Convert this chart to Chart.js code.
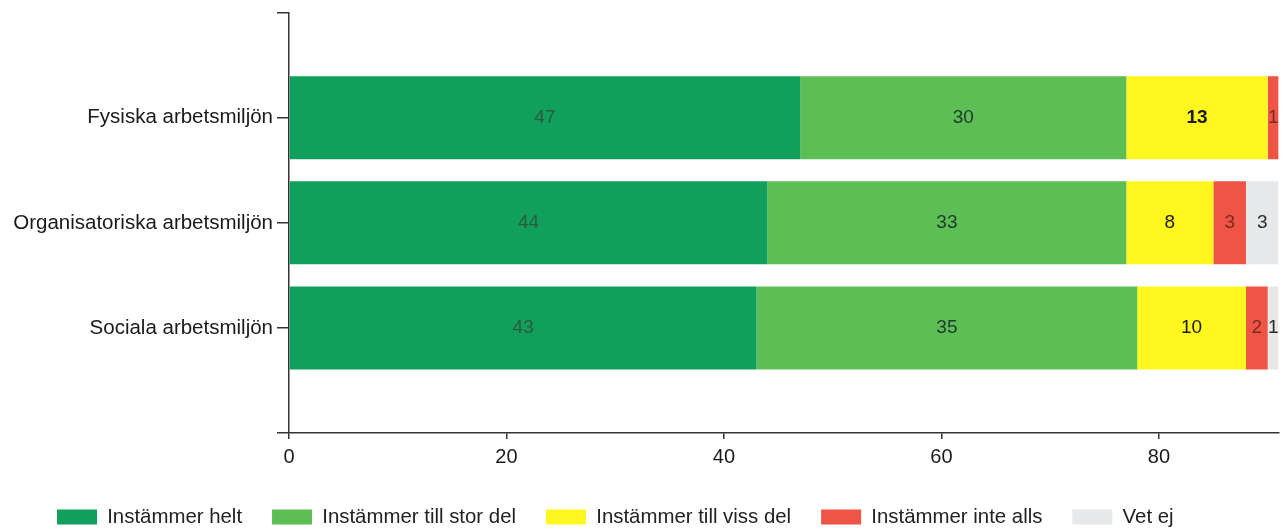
<!DOCTYPE html>
<html>
<head>
<meta charset="utf-8">
<script src="https://cdn.jsdelivr.net/npm/chart.js@4.4.1/dist/chart.umd.min.js"></script>
<style>
  html, body { margin: 0; padding: 0; background: #ffffff; }
  #wrap { width: 1285px; height: 531px; }
</style>
</head>
<body>
<div id="wrap"><canvas id="c" width="1285" height="531"></canvas></div>
<script>
// ---- data ----
const categories = ['Fysiska arbetsmiljön', 'Organisatoriska arbetsmiljön', 'Sociala arbetsmiljön'];
const seriesNames = ['Instämmer helt', 'Instämmer till stor del', 'Instämmer till viss del', 'Instämmer inte alls', 'Vet ej'];
const instammerHelt = [47, 44, 43];
const instammerStorDel = [30, 33, 35];
const instammerVissDel = [13, 8, 10];
const instammerInteAlls = [1, 3, 2];
const vetEj = [null, 3, 1];
const xTicks = [0, 20, 40, 60, 80];
const xMax = 91;

// ---- styles ----
const colors = ['#10A05C', '#5DBE55', '#FFF71E', '#EF5545', '#E7E8EA'];
const labelColors = ['rgba(55,70,60,0.8)', '#1f3a2a', '#1a1a1a', '#7a2a25', '#2a2a2a'];
const boldPoints = { '2-0': true };
const FONT = "'Liberation Sans', Arial, sans-serif";

const seriesValues = [instammerHelt, instammerStorDel, instammerVissDel, instammerInteAlls, vetEj];
const labels = [''].concat(categories, ['']);

const datasets = seriesValues.map((vals, i) => ({
  label: seriesNames[i],
  data: [null].concat(vals, [null]),
  backgroundColor: colors[i],
  borderWidth: 0,
  categoryPercentage: 0.79,
  barPercentage: 1.0
}));

const valueLabels = {
  id: 'valueLabels',
  afterLayout(chart) {
    if (chart.legend) { chart.legend.left = 27; }
  },
  afterDatasetsDraw(chart) {
    const ctx = chart.ctx;
    chart.data.datasets.forEach((ds, i) => {
      const meta = chart.getDatasetMeta(i);
      if (meta.hidden) return;
      meta.data.forEach((el, j) => {
        const v = ds.data[j];
        if (v === null || v === undefined || v === 0) return;
        const p = el.getProps(['x', 'y', 'base'], true);
        ctx.save();
        const bold = boldPoints[i + '-' + (j - 1)];
        ctx.font = (bold ? 'bold ' : '') + '19px ' + FONT;
        ctx.fillStyle = labelColors[i];
        ctx.textAlign = 'center';
        ctx.textBaseline = 'middle';
        ctx.fillText(String(v), (p.x + p.base) / 2, p.y);
        ctx.restore();
      });
    });
  }
};

new Chart(document.getElementById('c'), {
  type: 'bar',
  data: { labels: labels, datasets: datasets },
  options: {
    indexAxis: 'y',
    responsive: false,
    animation: false,
    devicePixelRatio: 1,
    layout: { padding: { left: 0, right: 6.4, top: 12.7, bottom: 0 } },
    plugins: {
      legend: {
        position: 'bottom',
        align: 'start',
        maxHeight: 54.2,
        labels: {
          boxWidth: 40,
          boxHeight: 15,
          padding: 30,
          color: '#222',
          font: { family: FONT, size: 20.4 }
        }
      },
      tooltip: { enabled: false }
    },
    scales: {
      x: {
        stacked: true,
        min: 0,
        max: xMax,
        afterFit(scale) { scale.height = 43.8; scale.paddingLeft = 0; scale.paddingRight = 0; },
        afterBuildTicks(scale) { scale.ticks = xTicks.map(v => ({ value: v })); },
        grid: { drawOnChartArea: false, drawTicks: true, tickLength: 6, tickColor: '#333', lineWidth: 1.5 },
        border: { display: true, color: '#333', width: 1.5 },
        ticks: {
          includeBounds: false,
          stepSize: 20,
          padding: 6,
          color: '#1a1a1a',
          font: { family: FONT, size: 20 },
          maxRotation: 0
        }
      },
      y: {
        stacked: true,
        offset: false,
        afterFit(scale) { scale.width = 289; scale.paddingTop = 0; scale.paddingBottom = 0; },
        grid: { offset: false, drawOnChartArea: false, drawTicks: true, tickLength: 12, tickColor: '#333', lineWidth: 1.5 },
        border: { display: true, color: '#333', width: 1.5 },
        ticks: {
          padding: 4,
          color: '#1a1a1a',
          autoSkip: false,
          font: { family: FONT, size: 20.5 }
        }
      }
    }
  },
  plugins: [valueLabels]
});
</script>
</body>
</html>
